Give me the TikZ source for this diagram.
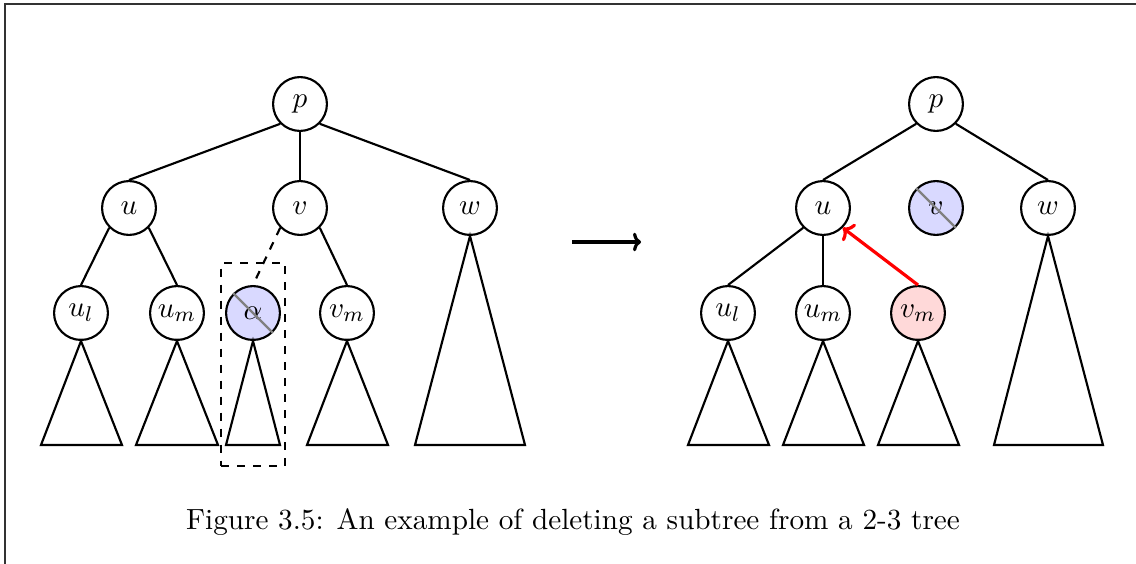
\documentclass[tikz,border=0pt]{standalone}
\usetikzlibrary{arrows.meta}
\begin{document}
\fontsize{10.95}{13.6}\selectfont
\begin{tikzpicture}[x=0.375pt,y=-0.375pt,
  tnode/.style={circle,draw,thick,minimum size=20.2pt,inner sep=0pt},
  gone/.style={tnode,fill=blue!15},
  moved/.style={tnode,fill=red!15},
  edge/.style={thick},
  subtree/.style={thick,line join=miter},
  strike/.style={gray,line width=0.8pt}]
\useasboundingbox (0,0) rectangle (1136,564);
% page frame
\draw[black!80,line width=0.6pt] (5,564) -- (5,4) -- (1136,4);

% ---- before deletion ----
\node[tnode] (p1) at (300,104) {$p$};
\node[tnode] (u1) at (129,208) {$u$};
\node[tnode] (v1) at (300,208) {$v$};
\node[tnode] (w1) at (470,208) {$w$};
\node[tnode] (ul1) at (81,313) {$u_l$};
\node[tnode] (um1) at (177,313) {$u_m$};
\node[gone] (a1) at (253,313) {$\alpha$};
\node[tnode] (vm1) at (347,313) {$v_m$};
\draw[strike] (a1.135) -- (a1.-45);

\draw[edge] (p1.south west) -- (u1.north);
\draw[edge] (p1.south) -- (v1.north);
\draw[edge] (p1.south east) -- (w1.north);
\draw[edge] (u1.south west) -- (ul1.north);
\draw[edge] (u1.south east) -- (um1.north);
\draw[edge,dashed] (v1.south west) -- (a1.north);
\draw[edge] (v1.south east) -- (vm1.north);

\draw[subtree] (ul1.south) -- (41,445) -- (122,445) -- cycle;
\draw[subtree] (um1.south) -- (136,445) -- (218,445) -- cycle;
\draw[subtree] (a1.south) -- (226,445) -- (280,445) -- cycle;
\draw[subtree] (vm1.south) -- (307,445) -- (388,445) -- cycle;
\draw[subtree] (w1.south) -- (415,445) -- (525,445) -- cycle;

\node[draw,thick,dashed,minimum width=24pt,minimum height=76pt,inner sep=0pt] (box) at (253,364.5) {};

% ---- transition ----
\coordinate (t0) at (572,242);
\coordinate (t1) at (641,242);
\draw[line width=1.2pt,-{To[length=3pt,width=7pt]}] (t0) -- (t1);

% ---- after deletion ----
\node[tnode] (p2) at (936,104) {$p$};
\node[tnode] (u2) at (823,208) {$u$};
\node[gone] (v2) at (936,208) {$v$};
\node[tnode] (w2) at (1048,208) {$w$};
\node[tnode] (ul2) at (728,313) {$u_l$};
\node[tnode] (um2) at (823,313) {$u_m$};
\node[moved] (vm2) at (918,313) {$v_m$};
\draw[strike] (v2.135) -- (v2.-45);

\draw[edge] (p2.south west) -- (u2.north);
\draw[edge] (p2.south east) -- (w2.north);
\draw[edge] (u2.south west) -- (ul2.north);
\draw[edge] (u2.south) -- (um2.north);
\draw[red,line width=1.2pt,-{To[length=3.5pt,width=8pt]}] (vm2.north) -- (u2.south east);

\draw[subtree] (ul2.south) -- (688,445) -- (769,445) -- cycle;
\draw[subtree] (um2.south) -- (783,445) -- (864,445) -- cycle;
\draw[subtree] (vm2.south) -- (878,445) -- (959,445) -- cycle;
\draw[subtree] (w2.south) -- (994,445) -- (1103,445) -- cycle;

\node (cap) at (573,522) {Figure 3.5: An example of deleting a subtree from a 2-3 tree};
\end{tikzpicture}
\end{document}
